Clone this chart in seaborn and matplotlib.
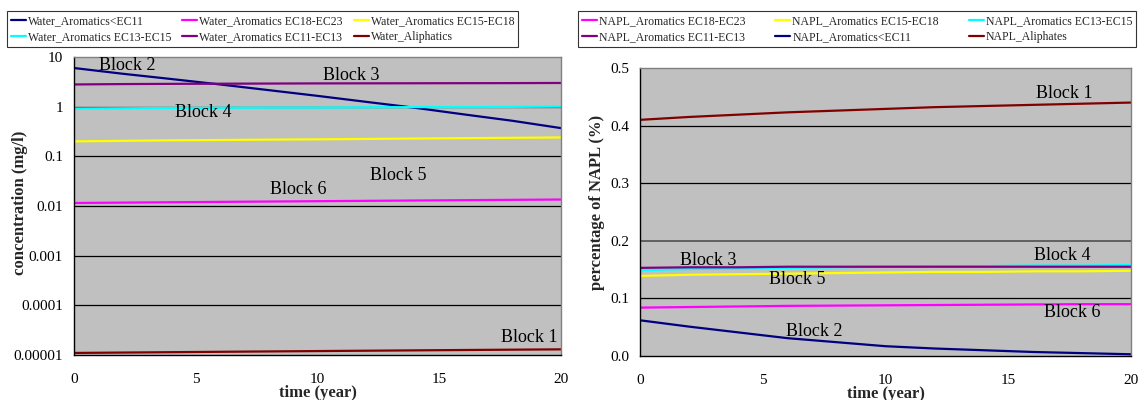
import numpy as np
import pandas as pd
import matplotlib
matplotlib.use("Agg")
import matplotlib.pyplot as plt
import seaborn as sns
from matplotlib.ticker import FixedLocator, FixedFormatter, NullLocator

# ---------------- data ----------------
time = [0, 2, 4, 6, 8, 10, 12, 14, 16, 18, 20]

water_aro_lt11 = [6.0, 4.6, 3.6, 2.8, 2.15, 1.65, 1.25, 0.95, 0.70, 0.52, 0.37]
water_aro_18_23 = [0.0115, 0.0117, 0.0119, 0.0121, 0.0123, 0.0125, 0.0127, 0.0129, 0.0131, 0.0133, 0.0135]
water_aro_15_18 = [0.200, 0.205, 0.210, 0.213, 0.217, 0.220, 0.224, 0.228, 0.232, 0.236, 0.240]
water_aro_13_15 = [0.92, 0.93, 0.94, 0.95, 0.96, 0.96, 0.97, 0.98, 0.98, 0.99, 1.00]
water_aro_11_13 = [2.80, 2.85, 2.88, 2.90, 2.92, 2.94, 2.95, 2.96, 2.97, 2.98, 3.00]
water_aliph = [1.10e-5, 1.12e-5, 1.14e-5, 1.16e-5, 1.18e-5, 1.20e-5, 1.22e-5, 1.24e-5, 1.26e-5, 1.28e-5, 1.30e-5]

napl_aro_18_23 = [0.084, 0.085, 0.086, 0.087, 0.0875, 0.088, 0.0885, 0.089, 0.0895, 0.090, 0.090]
napl_aro_15_18 = [0.139, 0.141, 0.142, 0.143, 0.144, 0.145, 0.146, 0.146, 0.147, 0.147, 0.148]
napl_aro_13_15 = [0.149, 0.151, 0.152, 0.153, 0.154, 0.155, 0.156, 0.156, 0.157, 0.157, 0.158]
napl_aro_11_13 = [0.153, 0.154, 0.154, 0.155, 0.155, 0.155, 0.155, 0.155, 0.155, 0.155, 0.155]
napl_aro_lt11 = [0.062, 0.051, 0.041, 0.031, 0.024, 0.017, 0.013, 0.010, 0.007, 0.005, 0.003]
napl_aliph = [0.410, 0.415, 0.419, 0.423, 0.426, 0.429, 0.432, 0.434, 0.436, 0.438, 0.440]

water_names = ["Water_Aromatics<EC11", "Water_Aromatics EC18-EC23", "Water_Aromatics EC15-EC18",
               "Water_Aromatics EC13-EC15", "Water_Aromatics EC11-EC13", "Water_Aliphatics"]
water_vals = [water_aro_lt11, water_aro_18_23, water_aro_15_18, water_aro_13_15, water_aro_11_13, water_aliph]
water_colors = ["#000080", "#FF00FF", "#FFFF00", "#00FFFF", "#800080", "#800000"]

napl_names = ["NAPL_Aromatics EC18-EC23", "NAPL_Aromatics EC15-EC18", "NAPL_Aromatics EC13-EC15",
              "NAPL_Aromatics EC11-EC13", "NAPL_Aromatics<EC11", "NAPL_Aliphates"]
napl_vals = [napl_aro_18_23, napl_aro_15_18, napl_aro_13_15, napl_aro_11_13, napl_aro_lt11, napl_aliph]
napl_colors = ["#FF00FF", "#FFFF00", "#00FFFF", "#800080", "#000080", "#800000"]

water_labels = [("Block 2", 2.2, 6.6), ("Block 3", 11.4, 4.3), ("Block 4", 5.3, 0.75),
                ("Block 5", 13.3, 0.041), ("Block 6", 9.2, 0.021), ("Block 1", 18.7, 2.3e-5)]
napl_labels = [("Block 1", 17.3, 0.455), ("Block 3", 2.8, 0.165), ("Block 4", 17.2, 0.174),
               ("Block 5", 6.4, 0.132), ("Block 6", 17.6, 0.075), ("Block 2", 7.1, 0.042)]

water_df = pd.DataFrame([(t, v, n) for n, vals in zip(water_names, water_vals) for t, v in zip(time, vals)],
                        columns=["time", "value", "series"])
napl_df = pd.DataFrame([(t, v, n) for n, vals in zip(napl_names, napl_vals) for t, v in zip(time, vals)],
                       columns=["time", "value", "series"])

# ---------------- style ----------------
sns.set_style("white")
plt.rcParams["font.family"] = ["Liberation Serif", "DejaVu Serif"]

fig = plt.figure(figsize=(11.4, 4.0), dpi=100)
axL = fig.add_axes([74/1140, 1-355/400, (561-74)/1140, (355-57)/400])
axR = fig.add_axes([640/1140, 1-356/400, (1131-640)/1140, (356-68)/400])

bg = "#C0C0C0"

def style_axes(ax):
    ax.set_facecolor(bg)
    for s in ["top", "right"]:
        ax.spines[s].set_color("#808080")
        ax.spines[s].set_linewidth(1.0)
    for s in ["left", "bottom"]:
        ax.spines[s].set_color("black")
        ax.spines[s].set_linewidth(1.0)
    ax.tick_params(axis="both", direction="out", length=5, width=1, colors="black",
                   labelsize=11, pad=3)
    ax.tick_params(axis="x", pad=8)
    ax.set_xlim(0, 20)
    ax.set_xticks([0, 5, 10, 15, 20])
    ax.set_xticklabels(["0", "5", "10", "15", "20"])

# left panel
sns.lineplot(data=water_df, x="time", y="value", hue="series", hue_order=water_names,
             palette=dict(zip(water_names, water_colors)), linewidth=1.6, ax=axL, legend=False)
axL.set_yscale("log")
axL.set_ylim(1e-5, 10)
yt = [1e-5, 1e-4, 1e-3, 1e-2, 1e-1, 1, 10]
axL.yaxis.set_major_locator(FixedLocator(yt))
axL.yaxis.set_major_formatter(FixedFormatter(["0.00001", "0.0001", "0.001", "0.01", "0.1", "1", "10"]))
axL.yaxis.set_minor_locator(NullLocator())
style_axes(axL)
for y in yt[1:-1]:
    axL.axhline(y, color="black", linewidth=0.9, zorder=0.5)
axL.set_xlabel("time (year)", fontsize=12, fontweight="bold", labelpad=-1)
axL.set_ylabel("concentration (mg/l)", fontsize=12, fontweight="bold")
axL.yaxis.set_label_coords((28-74)/487, (355-203)/298)
for txt, x, y in water_labels:
    axL.text(x, y, txt, fontsize=13, ha="center", va="center", color="black")

# right panel
sns.lineplot(data=napl_df, x="time", y="value", hue="series", hue_order=napl_names,
             palette=dict(zip(napl_names, napl_colors)), linewidth=1.6, ax=axR, legend=False)
axR.set_ylim(0, 0.5)
axR.set_yticks([0, 0.1, 0.2, 0.3, 0.4, 0.5])
axR.set_yticklabels(["0.0", "0.1", "0.2", "0.3", "0.4", "0.5"])
style_axes(axR)
for y in [0.1, 0.2, 0.3, 0.4]:
    axR.axhline(y, color="#606060" if y == 0.2 else "black", linewidth=1.4 if y == 0.2 else 0.9, zorder=0.5)
axR.set_xlabel("time (year)", fontsize=12, fontweight="bold", labelpad=-1)
axR.set_ylabel("percentage of NAPL (%)", fontsize=12, fontweight="bold")
axR.yaxis.set_label_coords((605-640)/491, (356-202)/288)
for txt, x, y in napl_labels:
    axR.text(x, y, txt, fontsize=13, ha="center", va="center", color="black")

# legends (row-wise order -> reorder for matplotlib column filling)
def make_legend(names, colors, bbox):
    handles = [plt.Line2D([], [], color=c, linewidth=1.6) for c in colors]
    order = [0, 3, 1, 4, 2, 5]
    leg = fig.legend([handles[i] for i in order], [names[i] for i in order], ncol=3,
                     loc="lower left", bbox_to_anchor=bbox, bbox_transform=fig.transFigure,
                     mode="expand", fontsize=8.5, frameon=True, fancybox=False, borderpad=0.3,
                     handlelength=1.3, handletextpad=0.15, columnspacing=0.6, labelspacing=0.4,
                     borderaxespad=0)
    leg.get_frame().set_edgecolor("black")
    leg.get_frame().set_linewidth(0.8)
    return leg

make_legend(water_names, water_colors, (7/1140, 1-47/400, (518-7)/1140, 35/400))
make_legend(napl_names, napl_colors, (578/1140, 1-47/400, (1136-578)/1140, 35/400))

fig.savefig("out.png", dpi=100, facecolor="white")
